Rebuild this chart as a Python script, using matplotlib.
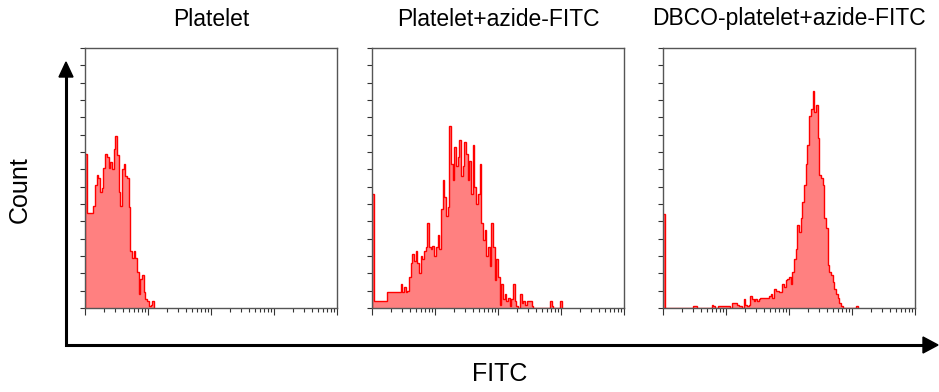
"""Flow cytometry FITC histograms for platelet click-labelling."""

import matplotlib

matplotlib.use("Agg")
import matplotlib.pyplot as plt
import numpy as np
from matplotlib.patches import Polygon
from matplotlib.ticker import FixedLocator, LogLocator, NullFormatter

plt.rcParams["font.family"] = ["Liberation Sans", "DejaVu Sans"]

# channel counts, 150 log channels over 4 decades (trailing zeros dropped)
titles = ["Platelet", "Platelet+azide-FITC", "DBCO-platelet+azide-FITC"]

counts_platelet = [
    89, 55, 55, 55, 55, 59, 71, 77, 75, 67, 69, 81, 89, 87, 81, 84, 80, 92, 99, 88,
    67, 59, 80, 83, 76, 75, 58, 33, 29, 33, 29, 21, 8, 17, 19, 9, 5, 4, 1, 2, 4,
]

counts_azide = [
    66, 4, 4, 4, 4, 4, 4, 4, 4, 9, 9, 9, 9, 9, 9, 9, 9, 14, 9, 12,
    9, 10, 18, 26, 31, 27, 33, 26, 20, 30, 28, 33, 35, 49, 35, 34, 36, 30, 35, 42,
    34, 57, 74, 64, 53, 58, 105, 83, 74, 93, 82, 87, 97, 76, 82, 96, 89, 74, 85, 66,
    94, 70, 60, 66, 83, 49, 39, 45, 30, 35, 24, 49, 35, 16, 28, 18, 2, 14, 5, 8,
    4, 6, 1, 5, 14, 4, 1, 0, 8, 3, 4, 2, 4, 4, 4, 1, 0, 0, 0, 0,
    0, 0, 0, 0, 0, 0, 4, 1, 0, 0, 0, 0, 4,
]

counts_dbco = [
    54, 0, 0, 0, 0, 0, 0, 0, 0, 0, 0, 0, 0, 0, 0, 0, 0, 0, 1, 1,
    0, 0, 0, 0, 0, 0, 0, 0, 0, 2, 1, 0, 0, 1, 1, 1, 1, 1, 1, 1,
    0, 3, 3, 3, 2, 1, 1, 0, 5, 2, 1, 2, 7, 5, 4, 5, 4, 5, 6, 6,
    6, 6, 6, 7, 8, 6, 11, 10, 10, 9, 9, 14, 12, 16, 17, 18, 14, 21, 28, 34,
    48, 44, 52, 61, 71, 83, 94, 111, 115, 125, 113, 117, 98, 77, 75, 71, 52, 46, 25, 21,
    19, 15, 11, 8, 6, 3, 1, 0, 0, 0, 0, 0, 0, 0, 0, 1,
]

N_CHANNELS = 150
DECADES = 4
Y_MAX = 150


def channel_edges(n):
    return 10.0 ** (np.arange(n + 1) * DECADES / N_CHANNELS)


def style_panel(ax):
    ax.set_xscale("log")
    ax.set_xlim(1, 10 ** DECADES)
    ax.set_ylim(0, Y_MAX)
    ax.xaxis.set_major_locator(LogLocator(base=10, numticks=10))
    ax.xaxis.set_minor_locator(LogLocator(base=10, subs=np.arange(2, 10), numticks=20))
    ax.xaxis.set_major_formatter(NullFormatter())
    ax.xaxis.set_minor_formatter(NullFormatter())
    ax.yaxis.set_major_locator(FixedLocator(np.arange(0, Y_MAX + 1, 10)))
    ax.yaxis.set_major_formatter(NullFormatter())
    ax.tick_params(axis="x", which="major", direction="out", length=5, width=0.8, color="#333333")
    ax.tick_params(axis="x", which="minor", direction="out", length=3, width=0.8, color="#333333")
    ax.tick_params(axis="y", which="major", direction="out", length=3.5, width=0.8, color="#333333")
    for sp in ax.spines.values():
        sp.set_color("#555555")
        sp.set_linewidth(1.0)


W, H = 939, 392
fig = plt.figure(figsize=(W / 100, H / 100), dpi=100)

# decorative axis arrows drawn in pixel space
bg = fig.add_axes([0, 0, 1, 1], zorder=0)
bg.set_xlim(0, W)
bg.set_ylim(H, 0)
bg.axis("off")
bg.plot([66, 66, 923], [76, 345, 345], color="black", lw=2.2, solid_joinstyle="miter")
bg.add_patch(Polygon([(59, 77), (73, 77), (66, 62)], closed=True, color="black"))
bg.add_patch(Polygon([(923, 337), (923, 353), (938, 345)], closed=True, color="black"))

panel_left = [85, 372, 663]
panel_width = 252
panel_top, panel_bottom = 48, 308
series = [counts_platelet, counts_azide, counts_dbco]

for left, title, vals in zip(panel_left, titles, series):
    ax = fig.add_axes([left / W, 1 - panel_bottom / H, panel_width / W, (panel_bottom - panel_top) / H], zorder=1)
    vals = np.asarray(vals, dtype=float)
    edges = channel_edges(len(vals))
    ax.stairs(vals, edges, fill=True, color="#ff8080", baseline=0)
    ax.stairs(vals, edges, color="#ff0000", lw=1.0, baseline=0)
    style_panel(ax)
    fig.text((left + panel_width / 2) / W, 1 - 19 / H, title, ha="center", va="center", fontsize=16.5)

fig.text(20 / W, 1 - 190 / H, "Count", rotation=90, ha="center", va="center", fontsize=18)
fig.text(500 / W, 1 - 374 / H, "FITC", ha="center", va="center", fontsize=18)

fig.savefig("out.png", dpi=100)
